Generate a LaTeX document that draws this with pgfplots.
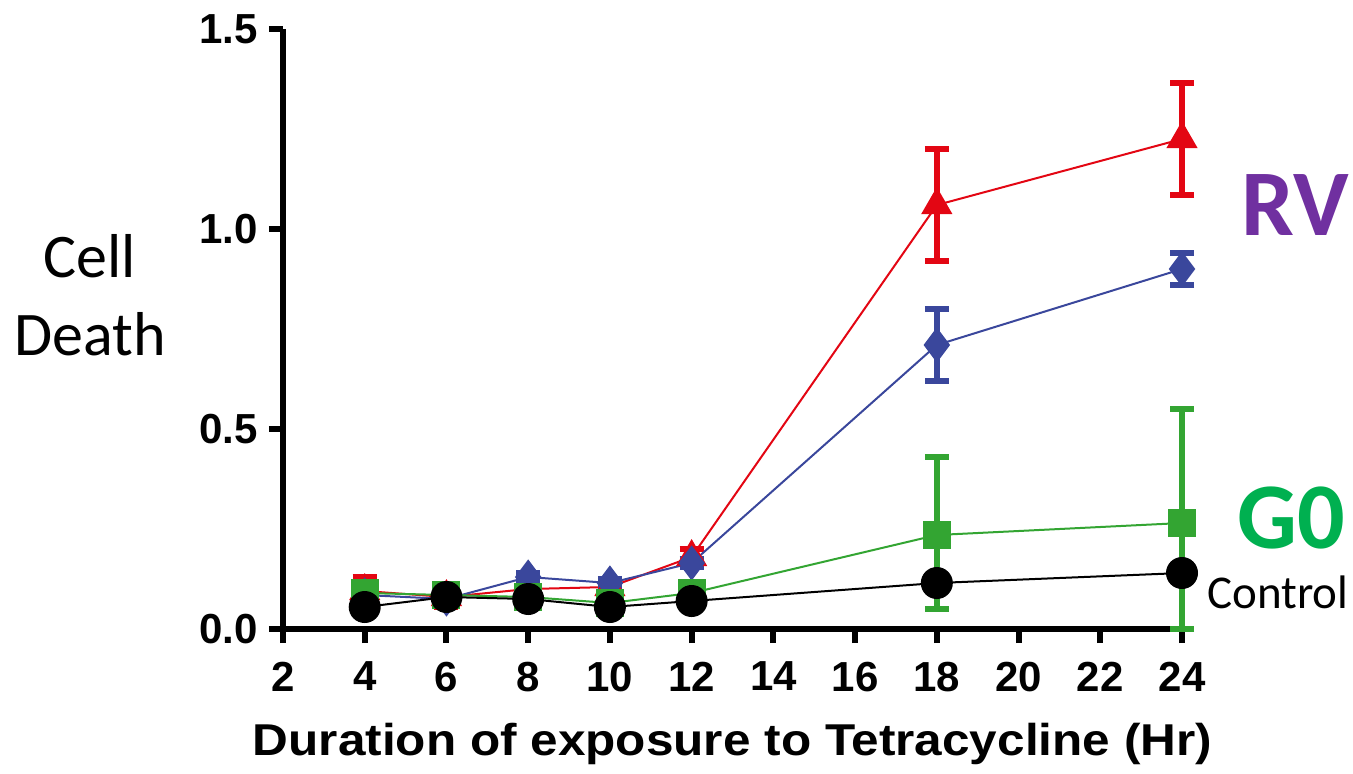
\documentclass[border=0pt]{standalone}
\usepackage{pgfplots}
\pgfplotsset{compat=1.18}
\usepackage{pgfplotstable}
\usepackage{fontspec}
\setmainfont{Liberation Sans}
\newfontfamily\calibri{Carlito}

\definecolor{rvred}{HTML}{E30613}
\definecolor{rvblue}{HTML}{3A479C}
\definecolor{gzgreen}{HTML}{33A532}
\definecolor{rvpurple}{HTML}{7030A0}
\definecolor{gzlabel}{HTML}{00B050}

% columns: hour, mean, error
\pgfplotstableread{
x    y      e
4    0.095  0.035
6    0.080  0.025
8    0.100  0.020
10   0.105  0.015
12   0.180  0.020
18   1.060  0.140
24   1.225  0.140
}\redtab
\pgfplotstableread{
x    y      e
4    0.085  0.010
6    0.075  0.010
8    0.130  0.010
10   0.115  0.010
12   0.165  0.010
18   0.710  0.090
24   0.900  0.040
}\bluetab
\pgfplotstableread{
x    y      ep     em
4    0.090  0.010  0.010
6    0.085  0.010  0.010
8    0.080  0.010  0.010
10   0.065  0.010  0.010
12   0.090  0.010  0.010
18   0.235  0.195  0.185
24   0.265  0.285  0.265
}\greentab
\pgfplotstableread{
x    y
4    0.055
6    0.080
8    0.075
10   0.055
12   0.070
18   0.115
24   0.140
}\blacktab

\begin{document}
\begin{tikzpicture}
\path[use as bounding box] (-141.5pt,-72pt) rectangle (535pt,314.5pt);
\begin{axis}[
  at={(0,0)}, anchor=origin,
  scale only axis,
  width=449.5pt, height=300pt,
  xmin=2, xmax=24, ymin=0, ymax=1.5,
  axis x line*=bottom, axis y line*=left,
  axis line style={line width=3pt, -},
  xtick={2,4,...,24},
  ytick={0,0.5,1.0,1.5},
  y tick label style={/pgf/number format/fixed, /pgf/number format/fixed zerofill, /pgf/number format/precision=1},
  /pgf/number format/assume math mode=true,
  tick label style={font=\fontsize{21}{23}\selectfont\bfseries},
  xticklabel style={yshift=-6pt},
  yticklabel style={xshift=-2pt},
  tick align=outside,
  major tick length=7pt,
  tick style={line width=3pt, black},
  xlabel={\scalebox{1.11}[1]{Duration of exposure to Tetracycline (Hr)}},
  xlabel style={font=\fontsize{22.3}{24}\selectfont\bfseries, yshift=-9pt},
  clip=false,
  error bars/error bar style={line width=3pt},
  error bars/error mark options={rotate=90, line width=3pt, mark size=6pt},
]
\addplot[rvred, line width=1pt, mark=triangle*, mark size=8pt,
  error bars/.cd, y dir=both, y explicit]
  table[x=x, y=y, y error=e]{\redtab};
\addplot[rvblue, line width=1pt, mark=diamond*, mark size=8pt,
  error bars/.cd, y dir=both, y explicit]
  table[x=x, y=y, y error=e]{\bluetab};
\addplot[gzgreen, line width=1pt, mark=square*, mark size=6.5pt,
  error bars/.cd, y dir=both, y explicit]
  table[x=x, y=y, y error plus=ep, y error minus=em]{\greentab};
\addplot[black, line width=1pt, mark=*, mark size=7.5pt]
  table[x=x, y=y]{\blacktab};
\end{axis}

\node[align=center, font=\calibri\fontsize{31}{39}\selectfont] at (-96.5pt,167pt) {Cell\\Death};
\node[anchor=west, inner sep=0pt, text=rvpurple, font=\calibri\bfseries\fontsize{47}{50}\selectfont] at (479pt,212pt) {RV};
\node[anchor=west, inner sep=0pt, text=gzlabel, font=\calibri\bfseries\fontsize{47}{50}\selectfont] at (477pt,55.5pt) {G0};
\node[anchor=west, inner sep=0pt, font=\calibri\fontsize{23.5}{26}\selectfont] at (462pt,18.5pt) {Control};
\end{tikzpicture}
\end{document}
